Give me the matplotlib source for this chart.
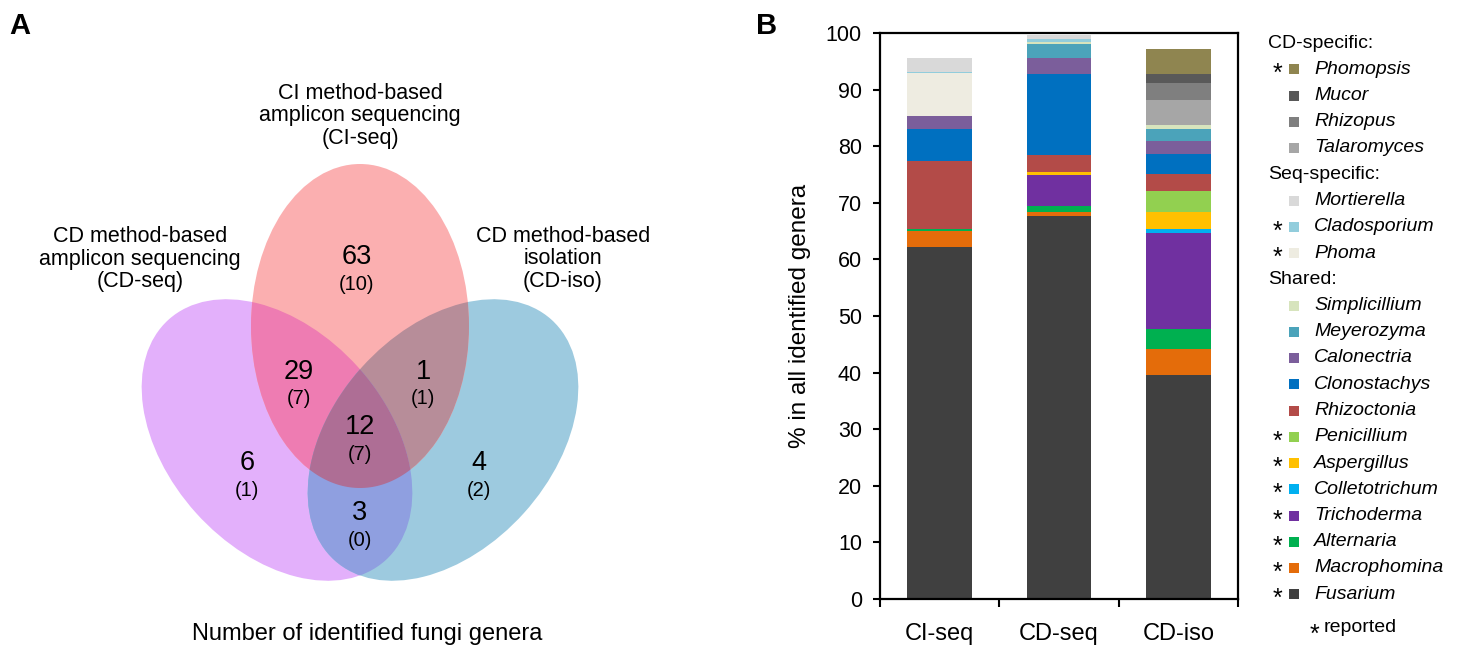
import numpy as np
import matplotlib.pyplot as plt
from matplotlib.patches import Ellipse, Polygon

plt.rcParams['font.family'] = ['Liberation Sans', 'DejaVu Sans']

# ---- data ----
# Venn regions: number of genera (reported pathogens in brackets)
region_keys = ['CI', 'CDseq', 'CDiso', 'CI+CDseq', 'CI+CDiso', 'CDseq+CDiso', 'all']
region_counts = [63, 6, 4, 29, 1, 3, 12]
region_reported = [10, 1, 2, 7, 1, 0, 7]
set_titles = ['CI method-based\namplicon sequencing\n(CI-seq)',
              'CD method-based\namplicon sequencing\n(CD-seq)',
              'CD method-based\nisolation\n(CD-iso)']

samples = ['CI-seq', 'CD-seq', 'CD-iso']
# stacking order, bottom -> top
genera = ['Fusarium', 'Macrophomina', 'Alternaria', 'Trichoderma', 'Colletotrichum',
          'Aspergillus', 'Penicillium', 'Rhizoctonia', 'Clonostachys', 'Calonectria',
          'Meyerozyma', 'Simplicillium', 'Phoma', 'Cladosporium', 'Mortierella',
          'Talaromyces', 'Rhizopus', 'Mucor', 'Phomopsis']
group = ['Shared:'] * 12 + ['Seq-specific:'] * 3 + ['CD-specific:'] * 4
reported = [1, 1, 1, 1, 1, 1, 1, 0, 0, 0, 0, 0, 1, 1, 0, 0, 0, 0, 1]
ci_seq = [62.2, 2.8, 0.4, 0, 0, 0, 0, 11.9, 5.7, 2.4, 0, 0, 7.5, 0.2, 2.5, 0, 0, 0, 0]
cd_seq = [67.7, 0.6, 1.2, 5.4, 0, 0.5, 0, 3.0, 14.3, 2.8, 2.5, 0.4, 0, 0.5, 0.8, 0, 0, 0, 0]
cd_iso = [39.6, 4.5, 3.6, 17.0, 0.7, 2.9, 3.7, 3.0, 3.7, 2.2, 2.1, 0.8, 0, 0, 0, 4.4, 3.0, 1.5, 4.4]
colors = ['#404040', '#E46C0A', '#00B050', '#7030A0', '#00B0F0', '#FFC000', '#92D050',
          '#B34B48', '#0070C0', '#7B5E9B', '#4BA3BA', '#D7E4BD', '#EEECE1', '#92CDDC',
          '#D9D9D9', '#A6A6A6', '#7F7F7F', '#595959', '#8F8550']

fig = plt.figure(figsize=(14.6, 6.45), dpi=100)

# ---- A: Venn diagram (axes in pixel units) ----
axv = fig.add_axes([0, 0, 730 / 1460, 1])
axv.set_xlim(0, 730)
axv.set_ylim(645, 0)
axv.axis('off')

W, H = 324, 218
ell = {'CI': (360, 326, 90), 'CDseq': (277, 440, 48), 'CDiso': (443, 440, -48)}
region_col = {'CI': '#FBAFB0', 'CDseq': '#E3B0FB', 'CDiso': '#9DCADF',
              'CI+CDseq': '#EE7CB2', 'CI+CDiso': '#B78D99', 'CDseq+CDiso': '#8F9FE0',
              'all': '#AE6E95'}


def mk(key, color):
    cx, cy, a = ell[key]
    return Ellipse((cx, cy), W, H, angle=a, facecolor=color, edgecolor='none')


def pts(key, n=1440):
    cx, cy, a = ell[key]
    t = np.linspace(0, 2 * np.pi, n, endpoint=False)
    x, y = W / 2 * np.cos(t), H / 2 * np.sin(t)
    r = np.deg2rad(a)
    return np.column_stack([cx + x * np.cos(r) - y * np.sin(r), cy + x * np.sin(r) + y * np.cos(r)])


def inside(p, key):
    cx, cy, a = ell[key]
    r = np.deg2rad(a)
    dx, dy = p[:, 0] - cx, p[:, 1] - cy
    u = dx * np.cos(r) + dy * np.sin(r)
    v = -dx * np.sin(r) + dy * np.cos(r)
    return (u / (W / 2)) ** 2 + (v / (H / 2)) ** 2 <= 1.0001


for key in ['CDseq', 'CDiso', 'CI']:
    axv.add_patch(mk(key, region_col[key]))

for k1, k2 in [('CI', 'CDseq'), ('CI', 'CDiso'), ('CDseq', 'CDiso')]:
    p = axv.add_patch(mk(k1, region_col[k1 + '+' + k2]))
    clip = mk(k2, 'none')
    clip.set_transform(axv.transData)
    p.set_clip_path(clip)

# triple overlap
keys = list(ell)
tri = []
for k in keys:
    q = pts(k)
    others = [o for o in keys if o != k]
    tri.append(q[inside(q, others[0]) & inside(q, others[1])])
tri = np.vstack(tri)
c = tri.mean(axis=0)
tri = tri[np.argsort(np.arctan2(tri[:, 1] - c[1], tri[:, 0] - c[0]))]
axv.add_patch(Polygon(tri, closed=True, facecolor=region_col['all'], edgecolor='none'))

label_pos = [(357, 257), (247, 463), (479, 463), (299, 372), (423, 372), (360, 513), (360, 427)]
for (x, y), n, r in zip(label_pos, region_counts, region_reported):
    axv.text(x, y, str(n), fontsize=19.5, ha='center', va='center')
    axv.text(x, y + 27, f'({r})', fontsize=14.5, ha='center', va='center')

for (x, y), t in zip([(360, 116), (140, 259), (563, 259)], set_titles):
    axv.text(x, y, t, fontsize=15.5, ha='center', va='center', linespacing=1.08)

axv.text(367, 634, 'Number of identified fungi genera', fontsize=17, ha='center', va='center')
axv.text(20, 26, 'A', fontsize=21, fontweight='bold', ha='center', va='center')
fig.text(767 / 1460, 1 - 26 / 645, 'B', fontsize=21, fontweight='bold', ha='center', va='center')

# ---- B: stacked bars ----
axb = fig.add_axes([880 / 1460, 46 / 645, 358 / 1460, 566 / 645])
x = np.arange(len(samples))
bottom = np.zeros(len(samples))
for i, g in enumerate(genera):
    vals = np.array([ci_seq[i], cd_seq[i], cd_iso[i]])
    axb.bar(x, vals, 0.54, bottom=bottom, color=colors[i], linewidth=0)
    bottom += vals

axb.set_xlim(-0.5, 2.5)
axb.set_ylim(0, 100)
axb.set_yticks(range(0, 101, 10))
axb.set_xticks(x)
axb.set_xticklabels(samples, fontsize=17)
axb.set_xticks([-0.5, 0.5, 1.5, 2.5], minor=True)
axb.tick_params(axis='x', which='major', length=0, pad=17)
axb.tick_params(axis='x', which='minor', length=6, width=1.5, direction='out')
axb.tick_params(axis='y', length=5, width=1.5, labelsize=15.5, direction='out', pad=8)
axb.set_ylabel('% in all identified genera', fontsize=17.5, labelpad=11)
for s in axb.spines.values():
    s.set_linewidth(1.6)

# ---- legend (pixel units) ----
axl = fig.add_axes([1240 / 1460, 0, 220 / 1460, 1])
axl.set_xlim(1240, 1460)
axl.set_ylim(645, 0)
axl.axis('off')

y = 43
step = 26.25
last_group = None
for i in range(len(genera) - 1, -1, -1):
    if group[i] != last_group:
        axl.text(1268, y, group[i], fontsize=14, ha='left', va='center')
        y += step
        last_group = group[i]
    axl.scatter(1294, y, marker='s', s=62, color=colors[i], linewidths=0)
    if reported[i]:
        axl.text(1277, y + 5, '*', fontsize=18, ha='center', va='center')
    axl.text(1314, y, genera[i], fontsize=14, style='italic', ha='left', va='center')
    y += step

axl.text(1314, 635, '*', fontsize=18, ha='center', va='center')
axl.text(1324, 628, 'reported', fontsize=14, ha='left', va='center')

fig.savefig('out.png', dpi=100)
